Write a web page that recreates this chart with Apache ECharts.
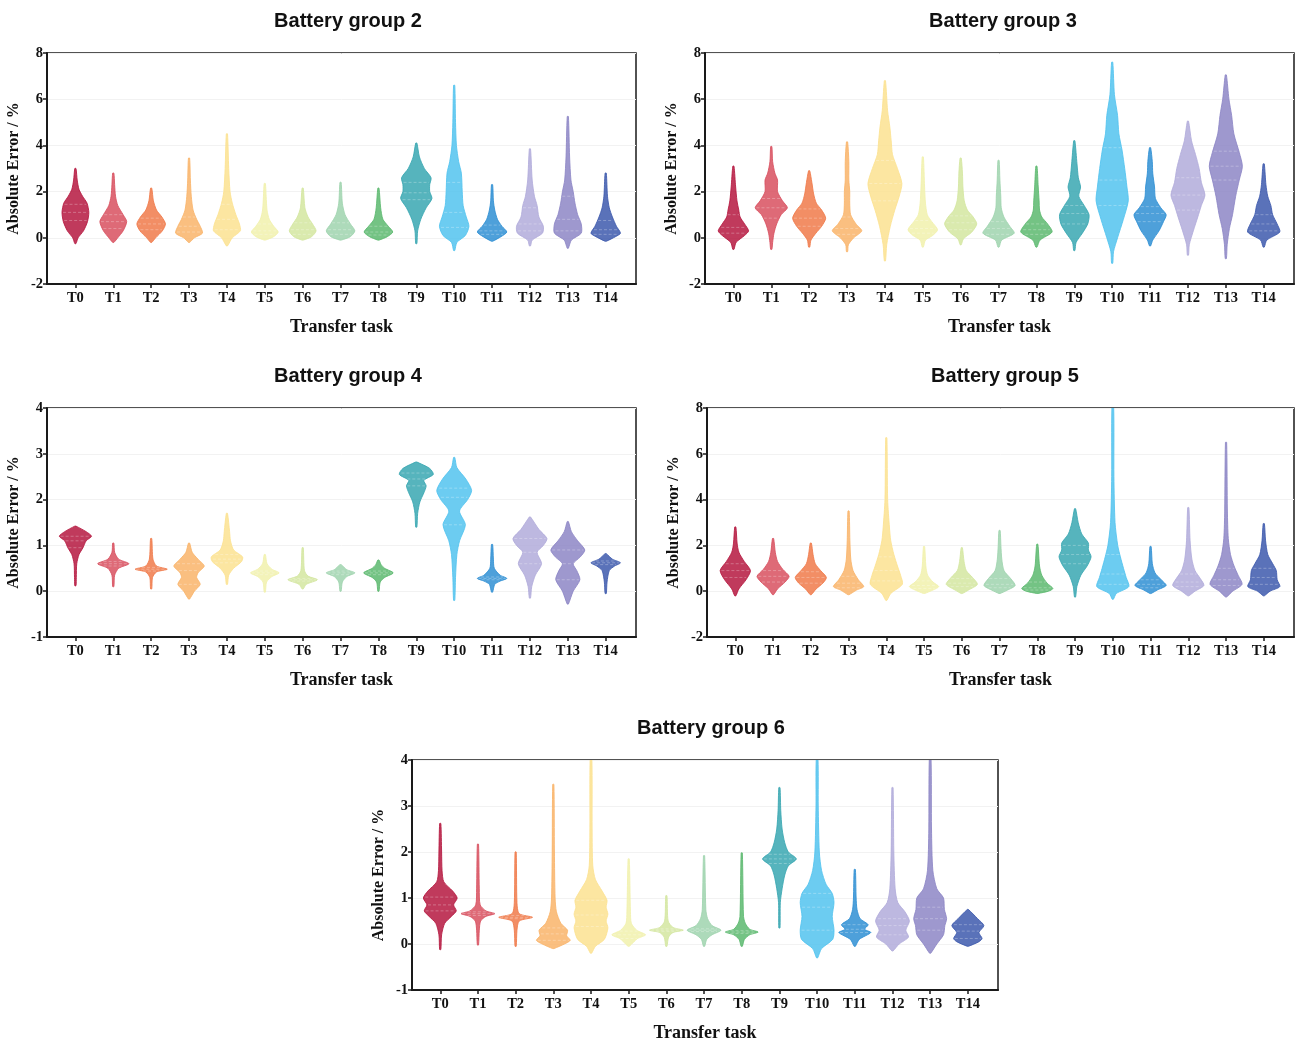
<!DOCTYPE html>
<html>
<head>
<meta charset="utf-8">
<script src="https://cdn.jsdelivr.net/npm/echarts@6/dist/echarts.min.js"></script>
<style>
html,body{margin:0;padding:0;background:#fff;}
#chart{width:1298px;height:1048px;}
</style>
</head>
<body>
<div id="chart"></div>
<script>
const categories = ['T0','T1','T2','T3','T4','T5','T6','T7','T8','T9','T10','T11','T12','T13','T14'];
const palette = ['#b5173f','#d8505f','#f07a4a','#f9b46a','#fbe291','#f1f1ad','#d3e6a0','#9fd3ae','#5cb86e','#38a7b1','#52c3ee','#2f8fd4','#b1acda','#8d86c5','#3d59ad'];

// Each violin: list of [value, half-width (fraction of category step)] from bottom to top
const g2Shapes = [
 [[-0.25,0],[0,0.06],[0.3,0.18],[0.7,0.27],[1.1,0.3],[1.5,0.26],[1.8,0.16],[2.1,0.08],[2.5,0.04],[3.0,0]],
 [[-0.2,0],[0,0.1],[0.3,0.22],[0.7,0.3],[1.0,0.22],[1.4,0.1],[1.8,0.05],[2.3,0.03],[2.8,0]],
 [[-0.2,0],[0,0.1],[0.3,0.25],[0.6,0.32],[0.9,0.24],[1.2,0.12],[1.6,0.05],[2.15,0]],
 [[-0.2,0],[0,0.12],[0.2,0.3],[0.5,0.25],[0.8,0.17],[1.2,0.09],[1.8,0.05],[2.5,0.03],[3.45,0]],
 [[-0.35,0],[0,0.12],[0.3,0.3],[0.6,0.28],[1.0,0.2],[1.5,0.12],[2.0,0.07],[3.0,0.04],[4.5,0]],
 [[-0.1,0],[0.05,0.2],[0.25,0.3],[0.5,0.2],[0.8,0.1],[1.2,0.05],[1.8,0.03],[2.35,0]],
 [[-0.1,0],[0.05,0.2],[0.3,0.3],[0.6,0.22],[0.9,0.12],[1.3,0.05],[2.15,0]],
 [[-0.1,0],[0.05,0.22],[0.3,0.32],[0.6,0.22],[1.0,0.1],[1.5,0.04],[2.4,0]],
 [[-0.1,0],[0.05,0.2],[0.25,0.32],[0.5,0.22],[0.8,0.1],[1.3,0.05],[2.15,0]],
 [[-0.25,0],[0.3,0.03],[0.8,0.1],[1.3,0.22],[1.7,0.35],[2.0,0.3],[2.3,0.3],[2.6,0.33],[3.0,0.18],[3.5,0.07],[4.1,0]],
 [[-0.55,0],[-0.2,0.06],[0.1,0.25],[0.5,0.33],[0.9,0.27],[1.4,0.2],[2.0,0.18],[2.8,0.16],[3.3,0.1],[4.0,0.05],[5.0,0.03],[6.6,0]],
 [[-0.15,0],[0.05,0.2],[0.25,0.33],[0.5,0.22],[0.8,0.12],[1.2,0.06],[1.6,0.03],[2.3,0]],
 [[-0.35,0],[-0.1,0.05],[0.2,0.28],[0.5,0.3],[0.9,0.2],[1.4,0.16],[1.8,0.1],[2.5,0.05],[3.85,0]],
 [[-0.45,0],[-0.1,0.08],[0.2,0.3],[0.6,0.3],[1.0,0.22],[1.5,0.16],[2.0,0.12],[2.5,0.07],[3.5,0.04],[5.25,0]],
 [[-0.15,0],[0.05,0.22],[0.2,0.33],[0.5,0.24],[0.9,0.15],[1.3,0.08],[1.8,0.04],[2.8,0]]
];
const g2Quartiles = [[0.75,1.1,1.45],[0.4,0.7,1.0],[0.35,0.6,0.85],[0.25,0.5,0.9],[0.35,0.8,1.45],[0.15,0.3,0.6],[0.15,0.35,0.65],[0.15,0.35,0.65],[0.12,0.25,0.5],[1.65,1.95,2.4],[0.45,1.1,2.4],[0.15,0.3,0.55],[0.3,0.6,1.3],[0.3,0.8,1.8],[0.15,0.35,0.75]];

const g3Shapes = [
 [[-0.5,0],[-0.2,0.06],[0.1,0.25],[0.3,0.34],[0.6,0.25],[0.9,0.15],[1.2,0.12],[1.6,0.08],[2.2,0.05],[3.1,0]],
 [[-0.5,0],[-0.2,0.03],[0.2,0.06],[0.6,0.12],[1.0,0.22],[1.3,0.36],[1.6,0.25],[2.0,0.14],[2.5,0.14],[2.8,0.08],[3.3,0.03],[3.95,0]],
 [[-0.4,0],[-0.1,0.04],[0.2,0.15],[0.5,0.28],[0.85,0.37],[1.2,0.28],[1.5,0.16],[1.9,0.1],[2.4,0.06],[2.9,0]],
 [[-0.6,0],[-0.3,0.03],[0,0.15],[0.3,0.33],[0.6,0.2],[1.0,0.08],[1.5,0.06],[2.0,0.06],[2.5,0.04],[3.3,0.04],[4.15,0]],
 [[-1.0,0],[-0.3,0.04],[0.5,0.12],[1.2,0.22],[1.8,0.32],[2.35,0.38],[3.0,0.28],[3.6,0.17],[4.2,0.14],[4.8,0.11],[5.5,0.06],[6.8,0]],
 [[-0.4,0],[-0.1,0.06],[0.1,0.22],[0.35,0.33],[0.7,0.2],[1.0,0.1],[1.5,0.06],[2.2,0.04],[3.5,0]],
 [[-0.3,0],[-0.05,0.06],[0.25,0.25],[0.6,0.36],[0.9,0.28],[1.2,0.15],[1.6,0.08],[2.2,0.05],[2.8,0.04],[3.45,0]],
 [[-0.4,0],[-0.1,0.07],[0.2,0.35],[0.5,0.25],[0.9,0.12],[1.3,0.06],[1.8,0.05],[2.5,0.03],[3.35,0]],
 [[-0.4,0],[-0.1,0.08],[0.25,0.35],[0.6,0.25],[0.9,0.12],[1.2,0.07],[1.6,0.06],[2.2,0.04],[3.1,0]],
 [[-0.55,0],[-0.2,0.04],[0.2,0.18],[0.6,0.3],[1.0,0.33],[1.4,0.22],[1.8,0.1],[2.2,0.14],[2.6,0.09],[3.2,0.06],[4.2,0]],
 [[-1.1,0],[-0.6,0.03],[0,0.12],[0.8,0.25],[1.6,0.36],[2.2,0.33],[3.0,0.28],[3.8,0.22],[4.5,0.15],[5.3,0.12],[6.2,0.05],[7.6,0]],
 [[-0.35,0],[-0.1,0.06],[0.3,0.2],[0.7,0.3],[1.0,0.36],[1.3,0.24],[1.7,0.12],[2.2,0.1],[2.8,0.06],[3.3,0.05],[3.9,0]],
 [[-0.75,0],[-0.3,0.03],[0.3,0.12],[0.9,0.22],[1.4,0.3],[1.85,0.38],[2.4,0.3],[3.0,0.25],[3.6,0.17],[4.2,0.08],[5.05,0]],
 [[-0.9,0],[-0.3,0.03],[0.4,0.08],[1.0,0.15],[1.8,0.22],[2.5,0.3],[3.1,0.37],[3.7,0.3],[4.5,0.18],[5.3,0.13],[6.0,0.07],[7.05,0]],
 [[-0.4,0],[-0.1,0.07],[0.25,0.36],[0.6,0.3],[1.0,0.2],[1.4,0.16],[1.8,0.09],[2.3,0.05],[3.2,0]]
];
const g3Quartiles = [[0.2,0.45,1.0],[0.85,1.3,1.7],[0.5,0.85,1.25],[0.15,0.4,0.9],[1.6,2.35,3.35],[0.2,0.4,0.75],[0.35,0.65,0.95],[0.15,0.4,0.7],[0.15,0.35,0.6],[0.6,1.05,1.4],[1.4,2.5,3.9],[0.7,1.05,1.35],[1.2,1.85,2.6],[2.5,3.1,3.75],[0.3,0.6,1.0]];

const g4Shapes = [
 [[0.12,0],[0.3,0.02],[0.6,0.03],[0.8,0.08],[0.95,0.17],[1.1,0.24],[1.2,0.36],[1.3,0.24],[1.42,0]],
 [[0.1,0],[0.35,0.03],[0.5,0.12],[0.6,0.35],[0.7,0.12],[0.85,0.03],[1.05,0]],
 [[0.05,0],[0.3,0.03],[0.42,0.12],[0.48,0.36],[0.55,0.12],[0.7,0.04],[1.15,0]],
 [[-0.17,0],[0,0.12],[0.15,0.25],[0.3,0.17],[0.4,0.2],[0.55,0.34],[0.7,0.2],[0.85,0.07],[1.05,0]],
 [[0.15,0],[0.35,0.04],[0.5,0.15],[0.65,0.33],[0.75,0.35],[0.9,0.15],[1.1,0.08],[1.3,0.06],[1.7,0]],
 [[-0.02,0],[0.2,0.04],[0.32,0.16],[0.4,0.32],[0.48,0.16],[0.6,0.05],[0.8,0]],
 [[0.05,0],[0.15,0.08],[0.25,0.33],[0.33,0.12],[0.45,0.04],[0.95,0]],
 [[0,0],[0.2,0.04],[0.32,0.14],[0.4,0.32],[0.47,0.14],[0.58,0]],
 [[0,0],[0.2,0.04],[0.3,0.14],[0.4,0.33],[0.5,0.14],[0.58,0.06],[0.68,0]],
 [[1.4,0],[1.7,0.03],[1.95,0.08],[2.15,0.17],[2.3,0.22],[2.42,0.17],[2.55,0.38],[2.68,0.3],[2.82,0]],
 [[-0.2,0],[0.3,0.03],[0.8,0.06],[1.1,0.12],[1.45,0.25],[1.75,0.12],[2.0,0.3],[2.2,0.39],[2.45,0.26],[2.7,0.06],[2.92,0]],
 [[-0.02,0],[0.15,0.06],[0.22,0.18],[0.28,0.33],[0.35,0.18],[0.5,0.05],[0.7,0.03],[1.02,0]],
 [[-0.15,0],[0.1,0.04],[0.35,0.12],[0.6,0.26],[0.85,0.16],[1.0,0.3],[1.15,0.38],[1.35,0.2],[1.62,0]],
 [[-0.28,0],[0,0.12],[0.25,0.27],[0.45,0.2],[0.6,0.12],[0.75,0.28],[0.9,0.38],[1.1,0.22],[1.3,0.08],[1.52,0]],
 [[-0.05,0],[0.2,0.03],[0.45,0.08],[0.55,0.2],[0.62,0.33],[0.7,0.15],[0.82,0]]
];
const g4Quartiles = [[0.95,1.1,1.2],[0.55,0.6,0.65],[0.44,0.48,0.52],[0.15,0.45,0.6],[0.62,0.7,0.8],[0.36,0.4,0.44],[0.22,0.25,0.28],[0.36,0.4,0.44],[0.36,0.4,0.44],[2.3,2.45,2.58],[1.45,2.05,2.25],[0.25,0.28,0.31],[0.6,0.85,1.15],[0.25,0.6,0.9],[0.58,0.62,0.66]];

const g5Shapes = [
 [[-0.2,0],[0.1,0.08],[0.5,0.24],[0.9,0.34],[1.3,0.2],[1.7,0.08],[2.1,0.04],[2.8,0]],
 [[-0.15,0],[0.1,0.1],[0.4,0.27],[0.65,0.36],[0.95,0.22],[1.3,0.1],[1.7,0.05],[2.3,0]],
 [[-0.15,0],[0.1,0.12],[0.35,0.27],[0.6,0.35],[0.9,0.22],[1.2,0.1],[1.6,0.05],[2.1,0]],
 [[-0.15,0],[0.05,0.18],[0.2,0.34],[0.5,0.22],[0.9,0.1],[1.4,0.05],[2.2,0.03],[3.5,0]],
 [[-0.4,0],[-0.1,0.1],[0.3,0.36],[0.7,0.32],[1.1,0.25],[1.6,0.17],[2.2,0.1],[2.8,0.07],[4.0,0.03],[6.7,0]],
 [[-0.1,0],[0.05,0.2],[0.2,0.33],[0.4,0.2],[0.7,0.08],[1.1,0.04],[1.95,0]],
 [[-0.1,0],[0.05,0.15],[0.3,0.35],[0.6,0.24],[0.9,0.1],[1.3,0.05],[1.9,0]],
 [[-0.1,0],[0.05,0.18],[0.25,0.35],[0.55,0.25],[0.9,0.1],[1.4,0.05],[2.0,0.03],[2.65,0]],
 [[-0.1,0],[0,0.25],[0.12,0.35],[0.35,0.22],[0.7,0.1],[1.1,0.05],[2.05,0]],
 [[-0.25,0],[0.2,0.04],[0.7,0.13],[1.1,0.27],[1.5,0.36],[1.8,0.3],[2.1,0.3],[2.5,0.15],[3.0,0.07],[3.6,0]],
 [[-0.35,0],[-0.1,0.08],[0.2,0.36],[0.6,0.3],[1.0,0.24],[1.5,0.17],[2.0,0.11],[3.0,0.05],[5.0,0.025],[8.0,0.02]],
 [[-0.1,0],[0.05,0.15],[0.25,0.35],[0.5,0.24],[0.8,0.1],[1.2,0.04],[1.95,0]],
 [[-0.2,0],[0,0.15],[0.25,0.35],[0.55,0.27],[0.9,0.15],[1.4,0.08],[2.2,0.04],[3.65,0]],
 [[-0.25,0],[0,0.15],[0.3,0.36],[0.7,0.27],[1.1,0.18],[1.6,0.1],[2.3,0.05],[3.5,0.03],[6.5,0]],
 [[-0.2,0],[0,0.14],[0.2,0.36],[0.5,0.3],[0.9,0.28],[1.2,0.2],[1.6,0.09],[2.2,0.04],[2.95,0]]
];
const g5Quartiles = [[0.6,0.9,1.2],[0.4,0.65,0.9],[0.35,0.6,0.85],[0.15,0.35,0.65],[0.45,0.9,1.5],[0.12,0.25,0.45],[0.2,0.35,0.55],[0.15,0.3,0.55],[0.05,0.15,0.4],[1.2,1.6,2.0],[0.3,0.75,1.6],[0.15,0.3,0.5],[0.2,0.4,0.75],[0.25,0.5,1.0],[0.3,0.6,1.0]];

const g6Shapes = [
 [[-0.12,0],[0.2,0.03],[0.45,0.1],[0.6,0.25],[0.72,0.36],[0.85,0.3],[1.0,0.38],[1.15,0.28],[1.35,0.08],[1.6,0.04],[2.0,0.03],[2.62,0]],
 [[-0.02,0],[0.3,0.03],[0.5,0.06],[0.6,0.18],[0.66,0.38],[0.72,0.18],[0.85,0.05],[1.2,0.03],[2.17,0]],
 [[-0.05,0],[0.3,0.03],[0.5,0.08],[0.58,0.38],[0.66,0.08],[0.9,0.03],[2.0,0]],
 [[-0.1,0],[0,0.25],[0.08,0.38],[0.18,0.3],[0.3,0.32],[0.45,0.17],[0.7,0.07],[1.0,0.04],[2.0,0.025],[3.47,0]],
 [[-0.2,0],[-0.05,0.1],[0.1,0.3],[0.35,0.38],[0.5,0.34],[0.65,0.38],[0.8,0.34],[0.95,0.36],[1.15,0.25],[1.4,0.1],[1.7,0.04],[2.5,0.025],[4.0,0.02]],
 [[-0.05,0],[0.05,0.12],[0.12,0.2],[0.2,0.38],[0.3,0.18],[0.45,0.06],[0.7,0.04],[1.85,0]],
 [[-0.05,0],[0.15,0.05],[0.25,0.15],[0.3,0.38],[0.36,0.15],[0.5,0.04],[1.05,0]],
 [[-0.05,0],[0.1,0.06],[0.2,0.18],[0.3,0.38],[0.4,0.18],[0.55,0.08],[0.75,0.04],[1.92,0]],
 [[-0.05,0],[0.1,0.06],[0.2,0.18],[0.26,0.37],[0.32,0.18],[0.45,0.08],[0.6,0.04],[1.98,0]],
 [[0.35,0],[0.9,0.02],[1.2,0.06],[1.5,0.12],[1.7,0.2],[1.85,0.38],[2.0,0.2],[2.2,0.12],[2.5,0.06],[2.9,0.03],[3.4,0]],
 [[-0.3,0],[-0.1,0.1],[0.1,0.35],[0.3,0.38],[0.6,0.34],[0.9,0.38],[1.1,0.34],[1.3,0.2],[1.6,0.1],[2.0,0.05],[3.0,0.025],[4.0,0.02]],
 [[-0.05,0],[0.1,0.1],[0.25,0.36],[0.32,0.22],[0.42,0.3],[0.55,0.12],[0.75,0.05],[1.0,0.03],[1.62,0]],
 [[-0.15,0],[0,0.15],[0.15,0.36],[0.3,0.3],[0.5,0.38],[0.7,0.28],[0.9,0.12],[1.2,0.06],[2.0,0.03],[3.4,0]],
 [[-0.2,0],[0,0.15],[0.2,0.3],[0.4,0.33],[0.55,0.37],[0.75,0.32],[1.0,0.3],[1.2,0.15],[1.6,0.06],[2.5,0.03],[4.0,0.02]],
 [[-0.05,0],[0.05,0.25],[0.12,0.32],[0.25,0.25],[0.4,0.36],[0.55,0.22],[0.75,0]]
];
const g6Quartiles = [[0.72,0.85,1.02],[0.62,0.66,0.7],[0.55,0.58,0.62],[0.08,0.22,0.35],[0.38,0.63,0.95],[0.12,0.2,0.28],[0.27,0.3,0.33],[0.27,0.3,0.33],[0.23,0.26,0.29],[1.75,1.85,1.95],[0.3,0.8,1.1],[0.25,0.32,0.42],[0.2,0.4,0.55],[0.3,0.55,0.8],[0.12,0.28,0.42]];

const panels = [
 {title:'Battery group 2', shapes:g2Shapes, quarts:g2Quartiles, yMin:-2, yMax:8, yStep:2, left:47, top:53, width:589, height:231, tx:343, ty:6},
 {title:'Battery group 3', shapes:g3Shapes, quarts:g3Quartiles, yMin:-2, yMax:8, yStep:2, left:705, top:53, width:589, height:231, tx:998, ty:6},
 {title:'Battery group 4', shapes:g4Shapes, quarts:g4Quartiles, yMin:-1, yMax:4, yStep:1, left:47, top:408, width:589, height:229, tx:343, ty:361},
 {title:'Battery group 5', shapes:g5Shapes, quarts:g5Quartiles, yMin:-2, yMax:8, yStep:2, left:707, top:408, width:587, height:229, tx:1000, ty:361},
 {title:'Battery group 6', shapes:g6Shapes, quarts:g6Quartiles, yMin:-1, yMax:4, yStep:1, left:412, top:760, width:586, height:230, tx:706, ty:713}
];

const serif = '"Liberation Serif","Times New Roman",serif';
const sans = '"Liberation Sans",Arial,sans-serif';
const idx = categories.map((c, i) => i);
const widthScale = 1.18;

function halfAt(prof, v) {
  for (let k = 0; k < prof.length - 1; k++) {
    const a = prof[k], b = prof[k + 1];
    if (v >= a[0] && v <= b[0]) {
      const t = (v - a[0]) / (b[0] - a[0] || 1);
      return a[1] + (b[1] - a[1]) * t;
    }
  }
  return 0;
}

function makeRender(p) {
  return function (params, api) {
    const i = params.dataIndex;
    const prof = p.shapes[i];
    const q = p.quarts[i];
    const bw = api.size([1, 0])[0] * widthScale;
    const leftPts = [], rightPts = [];
    prof.forEach(function (pt) {
      const c = api.coord([i, pt[0]]);
      const h = Math.max(pt[1] * bw, 0.6);
      leftPts.push([c[0] - h, c[1]]);
      rightPts.push([c[0] + h, c[1]]);
    });
    const pts = leftPts.concat(rightPts.reverse());
    const color = palette[i];
    const children = [{
      type: 'polygon',
      shape: { points: pts, smooth: 0.25 },
      style: { fill: color, opacity: 0.85, stroke: color, lineWidth: 1 }
    }];
    q.forEach(function (v) {
      const c = api.coord([i, v]);
      const h = halfAt(prof, v) * bw * 0.92;
      children.push({
        type: 'line',
        shape: { x1: c[0] - h, y1: c[1], x2: c[0] + h, y2: c[1] },
        style: { stroke: 'rgba(255,255,255,0.28)', lineWidth: 1, lineDash: [3, 2] }
      });
    });
    return { type: 'group', children: children };
  };
}

const option = {
  backgroundColor: '#ffffff',
  animation: false,
  title: panels.map(p => ({
    text: p.title, left: p.tx, top: p.ty, textAlign: 'center',
    textStyle: { fontFamily: sans, fontWeight: 'bold', fontSize: 20, color: '#111' }
  })),
  grid: panels.map(p => ({
    left: p.left, top: p.top, width: p.width, height: p.height,
    show: true, borderColor: '#1a1a1a', borderWidth: 1.5, containLabel: false
  })),
  xAxis: panels.map((p, gi) => ({
    gridIndex: gi, type: 'value', min: -0.75, max: 14.8,
    name: 'Transfer task', nameLocation: 'middle', nameGap: 34,
    nameTextStyle: { fontFamily: serif, fontWeight: 'bold', fontSize: 18, color: '#111' },
    axisLine: { show: true, onZero: false, lineStyle: { color: '#1a1a1a', width: 2 } },
    axisTick: { show: true, length: 4, customValues: idx, lineStyle: { color: '#1a1a1a', width: 1.5 } },
    axisLabel: { show: true, customValues: idx, margin: 7, formatter: v => categories[Math.round(v)] || '',
      fontFamily: serif, fontWeight: 'bold', fontSize: 14.5, color: '#111' },
    splitLine: { show: false }
  })),
  yAxis: panels.map((p, gi) => ({
    gridIndex: gi, type: 'value', min: p.yMin, max: p.yMax, interval: p.yStep,
    name: 'Absolute Error / %', nameLocation: 'middle', nameGap: 25,
    nameTextStyle: { fontFamily: serif, fontWeight: 'bold', fontSize: 16, color: '#111' },
    axisLine: { show: true, onZero: false, lineStyle: { color: '#1a1a1a', width: 2 } },
    axisTick: { show: true, length: 4, lineStyle: { color: '#1a1a1a', width: 1.5 } },
    axisLabel: { margin: 4, fontFamily: serif, fontWeight: 'bold', fontSize: 14.5, color: '#111' },
    splitLine: { show: true, lineStyle: { color: '#f2f2f2', width: 1 } }
  })),
  series: panels.map((p, gi) => ({
    type: 'custom', xAxisIndex: gi, yAxisIndex: gi, clip: true,
    data: idx.map(i => [i]), encode: { x: 0 },
    renderItem: makeRender(p)
  }))
};

const chart = echarts.init(document.getElementById('chart'), null, { renderer: 'canvas', width: 1298, height: 1048 });
chart.setOption(option);
</script>
</body>
</html>
